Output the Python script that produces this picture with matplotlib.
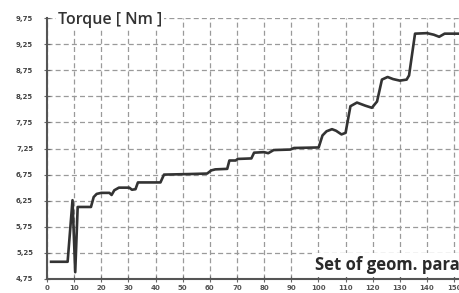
import matplotlib
matplotlib.use("Agg")
import matplotlib.pyplot as plt
from matplotlib.ticker import FixedLocator, FuncFormatter

# ---- data ----
set_index = [1.5, 7.6, 9.4, 10.4, 11.3, 16.2, 17.2, 18.3, 20, 23, 23.8, 24.8, 26.5,
             30.3, 31.3, 32.6, 33.5, 41.8, 43.1, 52, 59, 60.5, 62, 66.4, 67.2, 69.5,
             70.3, 75.3, 76.3, 80, 81.5, 83.5, 89.7, 91, 100.1, 101.5, 103, 105,
             106.5, 108.5, 110, 111.8, 114.2, 117.3, 119.7, 121.6, 123.4, 125.5,
             127.5, 130, 132.5, 133.4, 135.6, 140, 142.5, 144.5, 146.5, 152]
torque = [5.08, 5.08, 6.26, 4.88, 6.13, 6.13, 6.32, 6.38, 6.40, 6.40, 6.36, 6.45, 6.50,
          6.50, 6.46, 6.47, 6.60, 6.60, 6.75, 6.76, 6.77, 6.83, 6.85, 6.86, 7.02, 7.02,
          7.05, 7.06, 7.17, 7.18, 7.16, 7.22, 7.23, 7.26, 7.27, 7.50, 7.58, 7.62,
          7.59, 7.52, 7.55, 8.06, 8.13, 8.07, 8.03, 8.15, 8.57, 8.62,
          8.58, 8.55, 8.57, 8.65, 9.45, 9.46, 9.43, 9.39, 9.45, 9.45]
x_ticks = [0, 10, 20, 30, 40, 50, 60, 70, 80, 90, 100, 110, 120, 130, 140, 150]
y_ticks = [4.75, 5.25, 5.75, 6.25, 6.75, 7.25, 7.75, 8.25, 8.75, 9.25, 9.75]
y_title = "Torque [ Nm ]"
x_title = "Set of geom. parameters"

fig = plt.figure(figsize=(4.59, 2.93), dpi=100)
ax = fig.add_axes([47 / 459, 1 - 279 / 293, 1 - 47 / 459, (279 - 18) / 293])

ax.plot(set_index, torque, color="#333333", linewidth=1.9, solid_joinstyle="round")

ax.set_xlim(0, 151.8)
ax.set_ylim(4.75, 9.75)
ax.xaxis.set_major_locator(FixedLocator(x_ticks))
ax.yaxis.set_major_locator(FixedLocator(y_ticks))
ax.yaxis.set_major_formatter(FuncFormatter(lambda v, p: f"{v:.2f}".replace(".", ",")))
ax.grid(True, color="#9a9a9a", linestyle=(0, (4, 2.5)), linewidth=0.9)
ax.set_axisbelow(True)

for s in ["top", "right"]:
    ax.spines[s].set_visible(False)
for s in ["left", "bottom"]:
    ax.spines[s].set_color("#555555")
    ax.spines[s].set_linewidth(1.5)

ax.tick_params(axis="both", labelsize=5, colors="#666666", length=4,
               direction="inout", width=0.8)
ax.tick_params(axis="x", labelcolor="#555555", pad=2)
ax.tick_params(axis="y", labelcolor="#444444", pad=8)
for lab in ax.get_yticklabels() + ax.get_xticklabels():
    lab.set_fontweight("bold")

ax.text(58 / 459, 1 - 20 / 293, y_title, transform=fig.transFigure,
        fontsize=11.5, family="Open Sans", fontweight="semibold", color="#333333",
        va="center", ha="left",
        bbox=dict(facecolor="white", edgecolor="none", pad=1.5))
ax.text(315 / 459, 1 - 265 / 293, x_title, transform=fig.transFigure,
        fontsize=12, family="Open Sans", fontweight="bold", color="#2a2a2a",
        va="center", ha="left",
        bbox=dict(facecolor="white", edgecolor="none", pad=2))

fig.savefig("out.png", dpi=100, facecolor="white")
